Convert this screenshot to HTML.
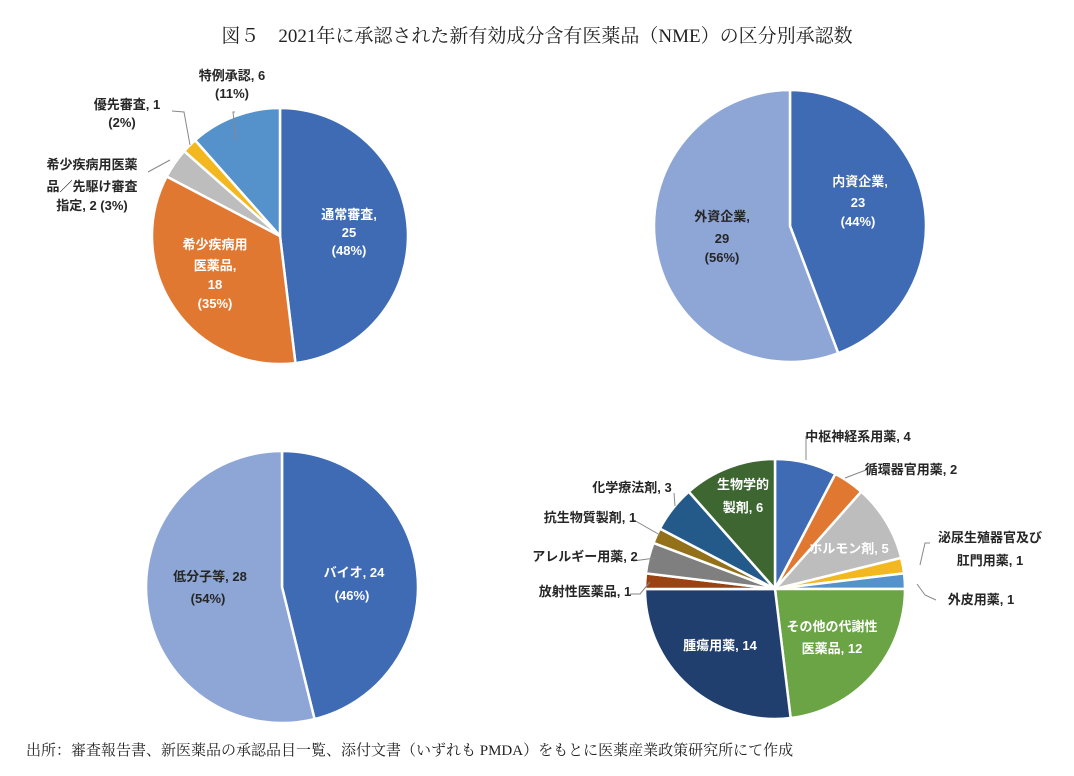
<!DOCTYPE html>
<html><head><meta charset="utf-8">
<style>
body{margin:0;background:#fff;}
svg{display:block;font-family:"Liberation Sans","Noto Sans CJK JP",sans-serif;}
.t{font-size:13px;font-weight:bold;fill:#262626;text-anchor:middle;}
.w{font-size:13px;font-weight:bold;fill:#fff;text-anchor:middle;}
</style></head><body>
<svg id="c" width="1074" height="776">
<text x="537" y="42" text-anchor="middle" font-family="'Liberation Serif','Noto Serif CJK SC',serif" font-size="19" fill="#222">図５　2021年に承認された新有効成分含有医薬品（NME）の区分別承認数</text>
<text x="26" y="755" font-family="'Liberation Serif','Noto Serif CJK SC',serif" font-size="15" fill="#222">出所：審査報告書、新医薬品の承認品目一覧、添付文書（いずれも PMDA）をもとに医薬産業政策研究所にて作成</text>
<g id="g1"></g><g id="g2"></g><g id="g3"></g><g id="g4"></g>
<g stroke="#888" fill="none" stroke-width="1">
<polyline points="235,112 233,112 236,140"/>
<polyline points="172,111 184,112 190,145"/>
<polyline points="148,172 170,160"/>
<polyline points="806,436 806,460"/>
<polyline points="866,470 845,478"/>
<polyline points="930,543 925,543 920,565"/>
<polyline points="917,584 925,595 936,600"/>
<polyline points="674,493 675,506"/>
<polyline points="632,519 660,535"/>
<polyline points="633,561 655,558"/>
<polyline points="630,594 640,594 650,582"/>
</g>
</svg>
<script>
const cats1=["通常審査","希少疾病用医薬品","希少疾病用医薬品／先駆け審査指定","優先審査","特例承認"];
const vals1=[25,18,2,1,6];
const cols1=["#3e6bb3","#e07832","#bdbdbd","#f3b81f","#5591ca"];
const cats2=["内資企業","外資企業"];
const vals2=[23,29];
const cols2=["#3e6bb3","#8ea6d6"];
const cats3=["バイオ","低分子等"];
const vals3=[24,28];
const cols3=["#3e6bb3","#8ea6d6"];
const cats4=["中枢神経系用薬","循環器官用薬","ホルモン剤","泌尿生殖器官及び肛門用薬","外皮用薬","その他の代謝性医薬品","腫瘍用薬","放射性医薬品","アレルギー用薬","抗生物質製剤","化学療法剤","生物学的製剤"];
const vals4=[4,2,5,1,1,12,14,1,2,1,3,6];
const cols4=["#3e6bb3","#e07832","#bdbdbd","#f3b81f","#5591ca","#6aa444","#213f6e","#9a4212","#7f7f7f","#93701a","#245a8a","#3d6631"];
const NS="http://www.w3.org/2000/svg";
function pie(gid,vals,cats,cols,cx,cy,r){
  const g=document.getElementById(gid);
  const tot=vals.reduce((a,b)=>a+b,0);
  let a=0;
  vals.forEach((v,i)=>{
    const a0=a/tot*2*Math.PI, a1=(a+v)/tot*2*Math.PI; a+=v;
    const x0=cx+r*Math.sin(a0),y0=cy-r*Math.cos(a0),x1=cx+r*Math.sin(a1),y1=cy-r*Math.cos(a1);
    const p=document.createElementNS(NS,"path");
    p.setAttribute("d",`M${cx},${cy}L${x0},${y0}A${r},${r} 0 ${a1-a0>Math.PI?1:0} 1 ${x1},${y1}Z`);
    p.setAttribute("fill",cols[i]);p.setAttribute("stroke","#fff");p.setAttribute("stroke-width","2.5");
    
    
    g.appendChild(p);
  });
}
pie("g1",vals1,cats1,cols1,280,236,128);
pie("g2",vals2,cats2,cols2,790,226,136);
pie("g3",vals3,cats3,cols3,282,587,136);
pie("g4",vals4,cats4,cols4,775,589,130);
const labels=[
 ["t",232,80,"特例承認, 6"],["t",232,98,"(11%)"],
 ["t",127,109,"優先審査, 1"],["t",122,127,"(2%)"],
 ["t",92,169,"希少疾病用医薬"],["t",92,191,"品／先駆け審査"],["t",92,210,"指定, 2 (3%)"],
 ["w",349,219,"通常審査,"],["w",349,237,"25"],["w",349,255,"(48%)"],
 ["w",215,249,"希少疾病用"],["w",215,270,"医薬品,"],["w",215,289,"18"],["w",215,308,"(35%)"],
 ["t",860,186,"内資企業,"],["w",860,186,"内資企業,"],["w",858,207,"23"],["w",858,226,"(44%)"],
 ["t",722,221,"外資企業,"],["t",722,243,"29"],["t",722,262,"(56%)"],
 ["w",354,577,"バイオ, 24"],["w",352,600,"(46%)"],
 ["t",210,581,"低分子等, 28"],["t",208,603,"(54%)"],
 ["t",858,441,"中枢神経系用薬, 4"],["t",911,474,"循環器官用薬, 2"],
 ["t",990,542,"泌尿生殖器官及び"],["t",990,565,"肛門用薬, 1"],["t",981,604,"外皮用薬, 1"],
 ["t",632,492,"化学療法剤, 3"],["t",590,522,"抗生物質製剤, 1"],["t",585,561,"アレルギー用薬, 2"],["t",585,596,"放射性医薬品, 1"],
 ["w",743,489,"生物学的"],["w",743,512,"製剤, 6"],["w",849,553,"ホルモン剤, 5"],
 ["w",832,631,"その他の代謝性"],["w",832,653,"医薬品, 12"],["w",720,650,"腫瘍用薬, 14"]
];
const svg=document.getElementById("c");
labels.forEach(l=>{
  const t=document.createElementNS(NS,"text");
  t.setAttribute("class",l[0]);t.setAttribute("x",l[1]);t.setAttribute("y",l[2]);
  t.textContent=l[3];
  
  
  svg.appendChild(t);
});
</script>
</body></html>
